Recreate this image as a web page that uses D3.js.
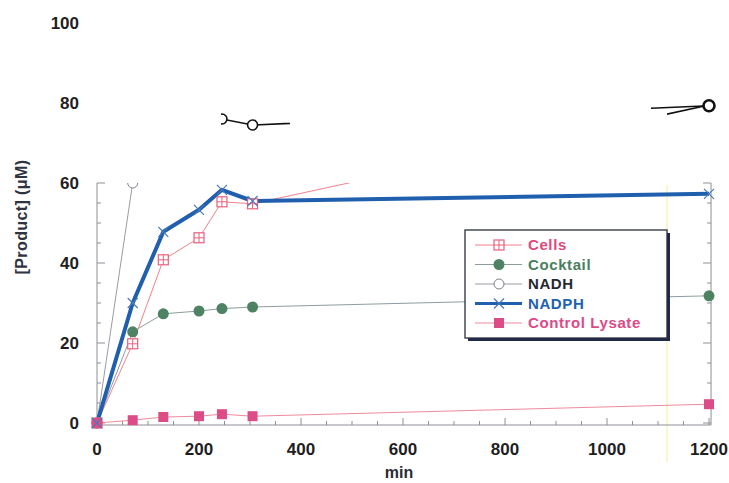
<!DOCTYPE html>
<html>
<head>
<meta charset="utf-8">
<script src="https://cdn.jsdelivr.net/npm/d3@7"></script>
<style>
  body { margin: 0; background: #fff; }
  text { font-family: "Liberation Sans", Arial, sans-serif; font-weight: bold; }
</style>
</head>
<body>
<svg id="chart" width="729" height="483"></svg>
<script>
'use strict';

// sample times (min)
const times = [0, 70, 130, 200, 245, 305, 1200];

const cells = [0, 19.8, 40.8, 46.3, 55.3, 54.8, 79.5];
const cocktail = [0, 22.8, 27.3, 28, 28.6, 29, 31.8];
const nadph = [0, 30, 47.8, 53.3, 58.3, 55.5, 57.3];
const controlLysate = [0, 0.7, 1.5, 1.7, 2.2, 1.7, 4.7];
// NADH was only sampled at these points (values above 60 drawn by hand on the figure)
const nadhTimes = [0, 70, 245, 305, 1200];
const nadh = [0, 60, 76, 74.5, 79.3];

const yTicks = [0, 20, 40, 60, 80, 100];
const xTicks = [0, 200, 400, 600, 800, 1000, 1200];
const legendLabels = ['Cells', 'Cocktail', 'NADH', 'NADPH', 'Control Lysate'];

const svg = d3.select('#chart');

const x = d3.scaleLinear().domain([0, 1200]).range([97, 709]);
const y = d3.scaleLinear().domain([0, 100]).range([423, 23]);
const yTop = y(60);
const axisY = 425;
const rightX = x(1204);

const defs = svg.append('defs');
defs.append('clipPath').attr('id', 'plotClip')
  .append('rect')
  .attr('x', 85).attr('y', yTop)
  .attr('width', 640).attr('height', axisY + 10 - yTop);

// the hand-drawn fragments above the frame
const scrapN = defs.append('clipPath').attr('id', 'scrapNadh');
scrapN.append('rect').attr('x', 221).attr('y', 95).attr('width', 69).attr('height', 40);
scrapN.append('rect').attr('x', 651).attr('y', 95).attr('width', 66).attr('height', 30);
defs.append('clipPath').attr('id', 'scrapCells')
  .append('rect').attr('x', 667).attr('y', 95).attr('width', 50).attr('height', 30);

// stray yellow scan line
svg.append('line')
  .attr('x1', 667).attr('x2', 667)
  .attr('y1', 185).attr('y2', 462)
  .attr('stroke', '#f3ef96').attr('stroke-width', 1);

// frame
const frameColor = '#8c9096';
svg.append('line').attr('x1', x(0)).attr('x2', x(0)).attr('y1', yTop).attr('y2', axisY)
  .attr('stroke', frameColor);
svg.append('line').attr('x1', rightX).attr('x2', rightX).attr('y1', yTop).attr('y2', axisY)
  .attr('stroke', frameColor);
svg.append('line').attr('x1', x(0)).attr('x2', rightX).attr('y1', axisY).attr('y2', axisY)
  .attr('stroke', frameColor);

// y ticks (inside), every 5
const yMinor = d3.range(0, 61, 5);
svg.append('g').selectAll('line')
  .data(yMinor)
  .enter()
  .append('line')
  .attr('x1', x(0))
  .attr('x2', (d) => x(0) + (d % 20 === 0 ? 8 : 4))
  .attr('y1', (d) => y(d)).attr('y2', (d) => y(d))
  .attr('stroke', frameColor);
svg.append('g').selectAll('line')
  .data(yMinor)
  .enter()
  .append('line')
  .attr('x1', rightX)
  .attr('x2', (d) => rightX - (d % 20 === 0 ? 8 : 4))
  .attr('y1', (d) => y(d)).attr('y2', (d) => y(d))
  .attr('stroke', frameColor);

// x ticks (inside), every 50
svg.append('g').selectAll('line')
  .data(d3.range(0, 1201, 50))
  .enter()
  .append('line')
  .attr('x1', (d) => x(d)).attr('x2', (d) => x(d))
  .attr('y1', axisY)
  .attr('y2', (d) => axisY - (d % 200 === 0 ? 7 : 4))
  .attr('stroke', frameColor);

// tick labels
svg.append('g').selectAll('text')
  .data(yTicks)
  .enter()
  .append('text')
  .text((d) => d)
  .attr('x', 79)
  .attr('y', (d) => y(d) + 6)
  .attr('text-anchor', 'end')
  .attr('font-size', '17px')
  .attr('fill', '#1e1e22');

svg.append('g').selectAll('text')
  .data(xTicks)
  .enter()
  .append('text')
  .text((d) => d)
  .attr('x', (d) => x(d))
  .attr('y', 455)
  .attr('text-anchor', 'middle')
  .attr('font-size', '17px')
  .attr('fill', '#1e1e22');

svg.append('text')
  .text('min')
  .attr('x', 399).attr('y', 478)
  .attr('text-anchor', 'middle')
  .attr('font-size', '16px')
  .attr('fill', '#2a2c34');

svg.append('text')
  .text('[Product] (μM)')
  .attr('transform', 'translate(27,217) rotate(-90)')
  .attr('text-anchor', 'middle')
  .attr('font-size', '16px')
  .attr('letter-spacing', '0.4px')
  .attr('fill', '#2f3440');

// series
const series = [
  { name: 'Cells', t: times, v: cells, line: '#f2828e', width: 1, marker: 'plusSquare', color: '#e8607c', text: '#e0487a' },
  { name: 'Cocktail', t: times, v: cocktail, line: '#8e9ca0', width: 1, marker: 'dot', color: '#4d8262', text: '#4a7e5e' },
  { name: 'NADH', t: nadhTimes, v: nadh, line: '#9a9ca2', width: 1, marker: 'circle', color: '#7c7f86', text: '#262830' },
  { name: 'NADPH', t: times, v: nadph, line: '#1f5fae', width: 4, marker: 'cross', color: '#4a78b8', text: '#2062b0' },
  { name: 'Control Lysate', t: times, v: controlLysate, line: '#f08a9c', width: 1, marker: 'square', color: '#dc4c86', text: '#dc4a86' },
];

function drawMarker(g, type, cx, cy, color) {
  if (type === 'plusSquare') {
    g.append('rect').attr('x', cx - 5).attr('y', cy - 5).attr('width', 10).attr('height', 10)
      .attr('fill', '#fff').attr('stroke', color).attr('stroke-width', 1.2);
    g.append('path').attr('d', `M${cx - 5},${cy}H${cx + 5}M${cx},${cy - 5}V${cy + 5}`)
      .attr('stroke', color).attr('stroke-width', 1);
  } else if (type === 'dot') {
    g.append('circle').attr('cx', cx).attr('cy', cy).attr('r', 5.5).attr('fill', color);
  } else if (type === 'circle') {
    g.append('circle').attr('cx', cx).attr('cy', cy).attr('r', 5)
      .attr('fill', '#fff').attr('stroke', color).attr('stroke-width', 1);
  } else if (type === 'cross') {
    g.append('path').attr('d', `M${cx - 5},${cy - 5}L${cx + 5},${cy + 5}M${cx - 5},${cy + 5}L${cx + 5},${cy - 5}`)
      .attr('stroke', color).attr('stroke-width', 1.2);
  } else if (type === 'square') {
    g.append('rect').attr('x', cx - 5).attr('y', cy - 5).attr('width', 10).attr('height', 10)
      .attr('fill', color);
  }
}

const lineGen = d3.line().x((d) => x(d[0])).y((d) => y(d[1]));
const plot = svg.append('g').attr('clip-path', 'url(#plotClip)');

// draw order: thin lines, NADPH thick on top, then markers
const order = [2, 1, 0, 4, 3];
order.forEach((i) => {
  const s = series[i];
  const pts = d3.zip(s.t, s.v);
  plot.append('path')
    .attr('d', lineGen(pts))
    .attr('fill', 'none')
    .attr('stroke', s.line)
    .attr('stroke-width', s.width)
    .attr('stroke-linejoin', 'round');
});
order.forEach((i) => {
  const s = series[i];
  const g = plot.append('g');
  d3.zip(s.t, s.v).forEach((p) => drawMarker(g, s.marker, x(p[0]), y(p[1]), s.color));
});

// hand-drawn part of NADH / Cells above 60
[[series[0], 'scrapCells'], [series[2], 'scrapNadh']].forEach(([s, clip]) => {
  svg.append('path')
    .attr('clip-path', `url(#${clip})`)
    .attr('d', lineGen(d3.zip(s.t, s.v)))
    .attr('fill', 'none')
    .attr('stroke', '#111')
    .attr('stroke-width', 1.6);
});
const scrapG = svg.append('g').attr('clip-path', 'url(#scrapNadh)');
d3.zip(nadhTimes, nadh).filter((p) => p[1] > 60).forEach((p) => {
  scrapG.append('circle')
    .attr('cx', x(p[0])).attr('cy', y(p[1]))
    .attr('r', p[0] === 1200 ? 5.5 : 5)
    .attr('fill', '#fff').attr('stroke', '#111')
    .attr('stroke-width', p[0] === 1200 ? 2.6 : 1.6);
});

// legend
const lg = svg.append('g');
lg.append('rect').attr('x', 468).attr('y', 233).attr('width', 202).attr('height', 108)
  .attr('fill', '#1e2a48');
lg.append('rect').attr('x', 465).attr('y', 230).attr('width', 202).attr('height', 108)
  .attr('fill', '#fff').attr('stroke', '#2a2f3a').attr('stroke-width', 1.3);

series.forEach((s, i) => {
  const ly = 245 + i * 19.5;
  lg.append('line').attr('x1', 475).attr('x2', 522).attr('y1', ly).attr('y2', ly)
    .attr('stroke', s.line).attr('stroke-width', s.width === 4 ? 3 : 1);
  drawMarker(lg, s.marker, 499, ly, s.color);
  lg.append('text')
    .text(legendLabels[i])
    .attr('x', 528).attr('y', ly + 5)
    .attr('font-size', '15px')
    .attr('letter-spacing', '0.6px')
    .attr('fill', s.text);
});
</script>
</body>
</html>
